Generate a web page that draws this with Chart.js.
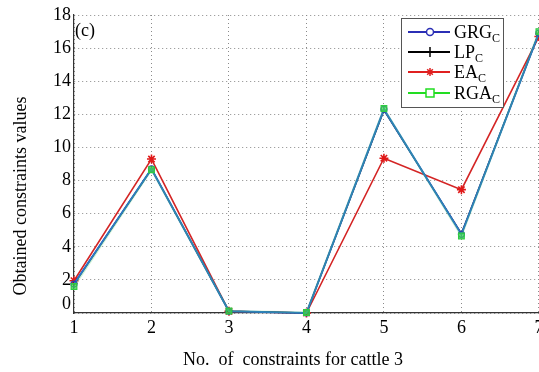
<!DOCTYPE html>
<html lang="en">
<head>
<meta charset="UTF-8" />
<title>Obtained constraints values (c)</title>
<script src="https://cdn.jsdelivr.net/npm/chart.js"></script>
<style>
  html, body { margin: 0; padding: 0; background: #fff; overflow: hidden; }
  canvas { display: block; }
</style>
</head>
<body>
<canvas id="chart" width="545" height="372"></canvas>
<script>
// values
const constraintNos = ['1', '2', '3', '4', '5', '6', '7'];
const grgValues = [1.75, 8.7, 0.1, 0.0, 12.3, 4.75, 16.9];
const lpValues  = [1.75, 8.7, 0.1, 0.0, 12.25, 4.8, 16.9];
const eaValues  = [1.95, 9.3, 0.1, 0.0, 9.35, 7.45, 16.7];
const rgaValues = [1.6, 8.65, 0.12, 0.03, 12.35, 4.65, 17.0];
const yMin = 0, yMax = 18, yStep = 2;

const serif = "'Liberation Serif', 'Times New Roman', serif";

// legend colours (as in the figure's legend box)
const legendItems = [
  { name: 'GRG', color: '#2b2fb5', marker: 'circle' },
  { name: 'LP',  color: '#000000', marker: 'tick' },
  { name: 'EA',  color: '#e02020', marker: 'star' },
  { name: 'RGA', color: '#22dd22', marker: 'square' }
];

const extras = {
  id: 'extras',
  afterDraw(chart) {
    const ctx = chart.ctx;
    ctx.save();
    ctx.fillStyle = '#000';
    ctx.font = '18px ' + serif;
    ctx.textBaseline = 'alphabetic';
    ctx.textAlign = 'left';
    ctx.fillText('(c)', 75, 36);

    // the bottom "0" label sits a little above the corner in the figure
    ctx.textAlign = 'right';
    ctx.textBaseline = 'middle';
    ctx.fillText(String(yMin), chart.chartArea.left - 3, chart.chartArea.bottom - 9);

    // axis titles
    ctx.textAlign = 'center';
    ctx.fillText('No.  of  constraints for cattle 3', 293, 360);
    ctx.save();
    ctx.translate(21, 196);
    ctx.rotate(-Math.PI / 2);
    ctx.fillText('Obtained constraints values', 0, 0);
    ctx.restore();

    // legend box
    const bx = 401, by = 18, bw = 102, bh = 89;
    ctx.fillStyle = '#fff';
    ctx.fillRect(bx, by, bw, bh);
    ctx.strokeStyle = '#555';
    ctx.lineWidth = 1;
    ctx.strokeRect(bx + 0.5, by + 0.5, bw, bh);

    const rows = [32, 52, 72, 93];
    legendItems.forEach((item, i) => {
      const y = rows[i];
      ctx.strokeStyle = item.color;
      ctx.lineWidth = 2;
      ctx.beginPath();
      ctx.moveTo(408, y);
      ctx.lineTo(450, y);
      ctx.stroke();
      const mx = 430;
      ctx.lineWidth = 1.5;
      ctx.beginPath();
      if (item.marker === 'circle') {
        ctx.fillStyle = '#fff';
        ctx.arc(mx, y, 3.5, 0, Math.PI * 2);
        ctx.fill();
        ctx.stroke();
      } else if (item.marker === 'tick') {
        ctx.moveTo(mx, y - 5);
        ctx.lineTo(mx, y + 5);
        ctx.stroke();
      } else if (item.marker === 'star') {
        for (let k = 0; k < 4; k++) {
          const a = k * Math.PI / 4;
          ctx.moveTo(mx - 4 * Math.cos(a), y - 4 * Math.sin(a));
          ctx.lineTo(mx + 4 * Math.cos(a), y + 4 * Math.sin(a));
        }
        ctx.stroke();
      } else {
        ctx.fillStyle = '#fff';
        ctx.fillRect(mx - 4, y - 4, 8, 8);
        ctx.strokeRect(mx - 4, y - 4, 8, 8);
      }
      ctx.fillStyle = '#000';
      ctx.textAlign = 'left';
      ctx.textBaseline = 'alphabetic';
      ctx.font = '18px ' + serif;
      ctx.fillText(item.name, 454, y + 6);
      const w = ctx.measureText(item.name).width;
      ctx.font = '12px ' + serif;
      ctx.fillText('C', 454 + w, y + 10);
    });
    ctx.restore();
  }
};

new Chart(document.getElementById('chart'), {
  type: 'line',
  data: {
    labels: constraintNos,
    datasets: [
      {
        label: 'GRG', data: grgValues, order: 1,
        borderColor: '#2a6fd0', borderWidth: 2,
        pointStyle: 'circle', pointRadius: 3,
        pointBorderColor: '#2a40b0', pointBackgroundColor: 'rgba(0,0,0,0)', pointBorderWidth: 1.2
      },
      {
        label: 'LP', data: lpValues, order: 2,
        borderColor: '#111', borderWidth: 1.5,
        pointStyle: 'cross', pointRadius: 3,
        pointBorderColor: '#111', pointBorderWidth: 1
      },
      {
        label: 'EA', data: eaValues, order: 3,
        borderColor: '#d42525', borderWidth: 1.6,
        pointStyle: 'star', pointRadius: 4.5,
        pointBorderColor: '#e01818', pointBorderWidth: 1.6
      },
      {
        label: 'RGA', data: rgaValues, order: 0,
        borderColor: 'rgba(60,200,90,0.25)', borderWidth: 2,
        pointStyle: 'rect', pointRadius: 4,
        pointBorderColor: '#2ecc40', pointBackgroundColor: 'rgba(60,215,80,0.7)', pointBorderWidth: 1.2
      }
    ]
  },
  options: {
    responsive: false,
    animation: false,
    events: [],
    layout: { padding: { left: 0, top: 15, right: 4, bottom: 0 } },
    elements: { line: { tension: 0 } },
    datasets: { line: { clip: false } },
    plugins: { legend: { display: false }, tooltip: { enabled: false } },
    scales: {
      x: {
        type: 'category',
        offset: false,
        grid: { color: '#8a8a8a', drawTicks: false, lineWidth: 1 },
        border: { display: true, color: '#333', width: 1.2, dash: [1, 3] },
        ticks: { color: '#000', padding: 4, font: { family: serif, size: 18 }, maxRotation: 0, autoSkip: false },
        afterFit(s) { s.height = 59; s.paddingLeft = 0; s.paddingRight = 0; }
      },
      y: {
        min: yMin, max: yMax,
        grid: { color: '#8a8a8a', drawTicks: false, lineWidth: 1 },
        border: { display: true, color: '#333', width: 1.2, dash: [1, 3] },
        ticks: {
          stepSize: yStep, color: '#000', padding: 3, font: { family: serif, size: 18 },
          callback: v => (v === yMin ? '' : v)
        },
        afterFit(s) { s.width = 74; s.paddingTop = 0; s.paddingBottom = 0; }
      }
    }
  },
  plugins: [extras]
});
</script>
</body>
</html>
